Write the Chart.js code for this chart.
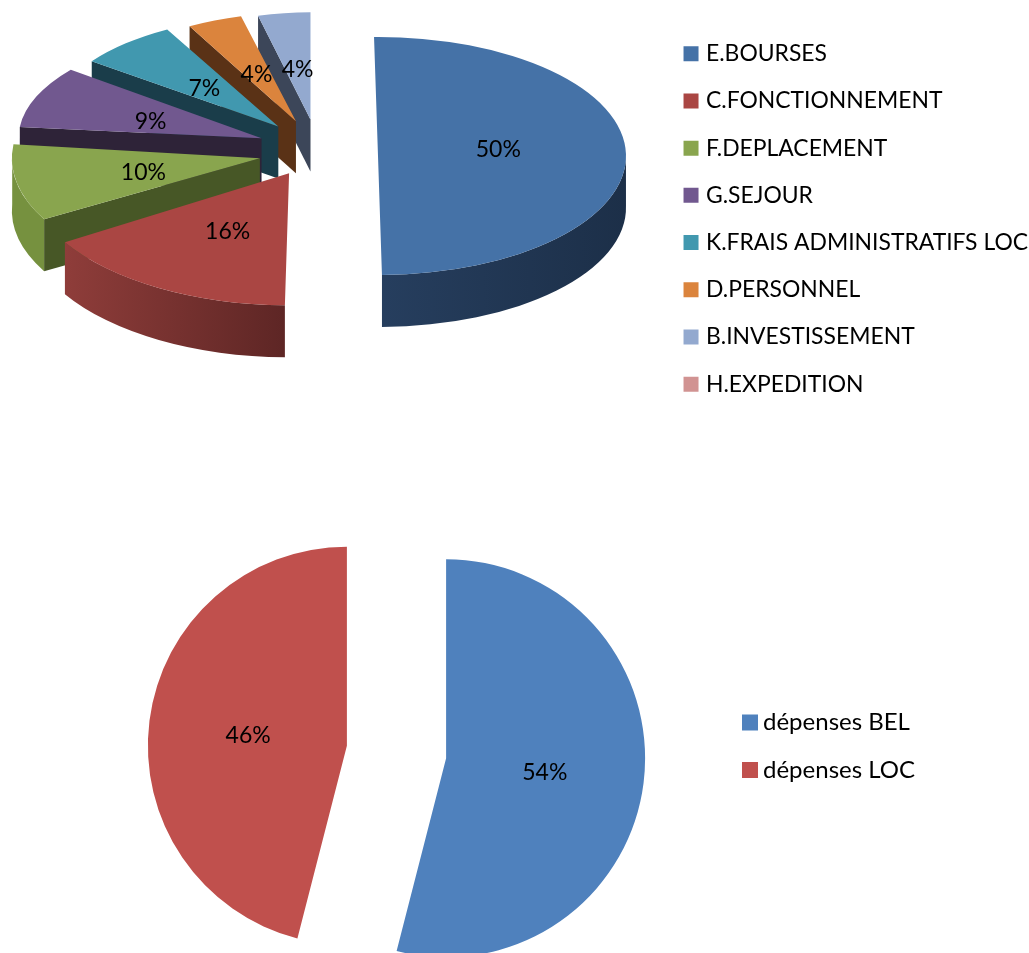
<!DOCTYPE html>
<html>
<head>
<meta charset="utf-8">
<title>Dépenses</title>
<script src="https://cdn.jsdelivr.net/npm/chart.js@4"></script>
<style>
    html, body { margin: 0; background: #fff; overflow: hidden; }
    canvas { position: absolute; left: 0; }
    #postesChart { top: 0; }
    #depensesChart { top: 470px; }
</style>
</head>
<body>
<canvas id="postesChart" width="1029" height="470"></canvas>
<canvas id="depensesChart" width="1029" height="483"></canvas>
<script>
// Top chart
const posteLabels = ['E.BOURSES', 'C.FONCTIONNEMENT', 'F.DEPLACEMENT', 'G.SEJOUR',
    'K.FRAIS ADMINISTRATIFS LOC', 'D.PERSONNEL', 'B.INVESTISSEMENT', 'H.EXPEDITION'];
const posteValues = [50, 16, 10, 9, 7, 4, 4, 0];
const posteColors = ['#4572a7', '#aa4643', '#89a54e', '#71588f', '#4198af', '#db843d', '#93a9cf', '#d19392'];
const posteWalls = ['#1c2f48', '#5e2625', '#475726', '#2e2338', '#1a3d4a', '#5a3216', '#3c4659', '#5a3d3c'];
const posteRims = [['#263e5e', '#1c2f48'], ['#8f3d3a', '#5e2625'], ['#76913f', '#76913f'], ['#5c4775', '#5c4775'],
    ['#357c90', '#357c90'], ['#b36c32', '#b36c32'], ['#7a8cab', '#7a8cab'], ['#ab7978', '#ab7978']];

// Bottom chart
const depenseLabels = ['dépenses BEL', 'dépenses LOC'];
const depenseValues = [54, 46];
const depenseColors = ['#4f81bd', '#c0504d'];

const FONT = 'Lato';

// Draws the exploded slices itself: flattened, with side walls, front slices larger
const piePerspective = {
    id: 'piePerspective',
    beforeDatasetDraw() {
        return false;
    },
    beforeDatasetsDraw(chart, args, opts) {
        const ctx = chart.ctx;
        const arcs = chart.getDatasetMeta(0).data;
        const order = arcs.map((a, i) => i);
        // blue half first, then the others from the back to the front
        const paintOrder = [order[0], ...order.slice(1).reverse()];
        const scaleX = i => opts.scaleX ? opts.scaleX[i] : 1;
        const scaleY = i => opts.scaleY ? opts.scaleY[i] : 1;
        const turn = i => opts.turn ? opts.turn[i] : 0;

        const place = (arc, i) => {
            const mid = (arc.startAngle + arc.endAngle) / 2;
            ctx.translate(opts.centerX + Math.cos(mid) * opts.explode,
                opts.centerY + Math.sin(mid) * opts.explode * opts.tilt + (opts.nudgeY ? opts.nudgeY[i] : 0));
            ctx.scale(scaleX(i), scaleY(i) * opts.tilt);
            ctx.rotate(turn(i));
            ctx.translate(-arc.x, -arc.y);
        };

        if (opts.depth) {
            paintOrder.forEach(i => {
                const arc = arcs[i];
                if (arc.circumference === 0) return;
                ctx.save();
                place(arc, i);
                // straight down on the page, whatever the slice's own turn is
                const drop = opts.depth / (opts.tilt * scaleY(i));
                const dropX = drop * Math.sin(turn(i));
                const dropY = drop * Math.cos(turn(i));
                const r = arc.outerRadius;

                // outer wall, only the part that faces the viewer
                const from = Math.max(arc.startAngle, 0);
                const to = Math.min(arc.endAngle, Math.PI);
                if (to > from) {
                    const xs = [from, to].map(angle => arc.x + Math.cos(angle) * r);
                    const grad = ctx.createLinearGradient(Math.min(...xs), 0, Math.max(...xs), 0);
                    grad.addColorStop(0, opts.rims[i][0]);
                    grad.addColorStop(1, opts.rims[i][1]);
                    ctx.fillStyle = grad;
                    ctx.beginPath();
                    ctx.arc(arc.x, arc.y, r, from, to);
                    ctx.arc(arc.x + dropX, arc.y + dropY, r, to, from, true);
                    ctx.closePath();
                    ctx.fill();
                }

                // cut faces, same rule
                ctx.fillStyle = opts.walls[i];
                [[arc.startAngle, -1], [arc.endAngle, 1]].forEach(([angle, side]) => {
                    if (Math.cos(angle) * side < 0.01) return;
                    const ex = arc.x + Math.cos(angle) * r;
                    const ey = arc.y + Math.sin(angle) * r;
                    ctx.beginPath();
                    ctx.moveTo(arc.x, arc.y);
                    ctx.lineTo(ex, ey);
                    ctx.lineTo(ex + dropX, ey + dropY);
                    ctx.lineTo(arc.x + dropX, arc.y + dropY);
                    ctx.closePath();
                    ctx.fill();
                });
                ctx.restore();
            });
        }

        paintOrder.forEach(i => {
            ctx.save();
            place(arcs[i], i);
            arcs[i].draw(ctx);
            ctx.restore();
        });

        // percentages
        const values = chart.data.datasets[0].data;
        const total = values.reduce((sum, v) => sum + v, 0);
        ctx.save();
        ctx.fillStyle = '#000';
        ctx.font = opts.labelFont;
        ctx.textAlign = 'center';
        ctx.textBaseline = 'middle';
        arcs.forEach((arc, i) => {
            if (!values[i]) return;
            const mid = (arc.startAngle + arc.endAngle) / 2;
            const dist = arc.outerRadius * opts.labelAt;
            const lx = opts.centerX + Math.cos(mid) * (opts.explode + dist * scaleX(i));
            const ly = opts.centerY + Math.sin(mid) * (opts.explode + dist * scaleY(i)) * opts.tilt;
            ctx.fillText(Math.round(values[i] / total * 100) + '%', lx, ly + 2);
        });
        ctx.restore();
    }
};

// thick stroke on a tiny box, so the swatch sits closer to its text
function legendItems(grow) {
    return chart => {
        const ds = chart.data.datasets[0];
        return chart.data.labels.map((text, i) => ({
            text,
            index: i,
            fillStyle: ds.backgroundColor[i],
            strokeStyle: ds.backgroundColor[i],
            lineWidth: grow,
            fontColor: '#000'
        }));
    };
}

new Chart(document.getElementById('postesChart'), {
    type: 'pie',
    data: {
        labels: posteLabels,
        datasets: [{
            data: posteValues,
            backgroundColor: posteColors,
            borderWidth: 0,
            radius: 248,
            clip: false
        }]
    },
    options: {
        responsive: false,
        animation: false,
        layout: { padding: { top: 18, right: -9 } },
        plugins: {
            tooltip: { enabled: false },
            legend: {
                position: 'right',
                align: 'start',
                labels: {
                    boxWidth: 7,
                    boxHeight: 7,
                    padding: 24.3,
                    color: '#000',
                    font: { family: FONT, size: 22.9 },
                    generateLabels: legendItems(8)
                }
            },
            piePerspective: {
                centerX: 318, centerY: 148, tilt: 0.48, depth: 52, explode: 60,
                scaleX: [1, 1.06, 1, 0.98, 0.93, 0.89, 0.85, 1],
                scaleY: [1, 1.11, 1.04, 0.93, 0.93, 0.91, 0.9, 1],
                nudgeY: [8, 0, 3, 0, 0, 0, 0, 0],
                turn: [-0.016, 0.016, 0.05, 0.04, 0, 0, 0, 0],
                walls: posteWalls, rims: posteRims,
                labelFont: '23px ' + FONT, labelAt: 0.485
            }
        }
    },
    plugins: [piePerspective]
});

new Chart(document.getElementById('depensesChart'), {
    type: 'pie',
    data: {
        labels: depenseLabels,
        datasets: [{
            data: depenseValues,
            backgroundColor: depenseColors,
            borderWidth: 0,
            radius: 199,
            clip: false
        }]
    },
    options: {
        responsive: false,
        animation: false,
        layout: { padding: { top: 217, right: 104 } },
        plugins: {
            tooltip: { enabled: false },
            legend: {
                position: 'right',
                align: 'start',
                labels: {
                    boxWidth: 2,
                    boxHeight: 2,
                    padding: 23.5,
                    color: '#000',
                    font: { family: FONT, size: 24 },
                    generateLabels: legendItems(14)
                }
            },
            piePerspective: {
                centerX: 396.5, centerY: 282, tilt: 1, depth: 0, explode: 50,
                labelFont: '23px ' + FONT, labelAt: 0.5
            }
        }
    },
    plugins: [piePerspective]
});
</script>
</body>
</html>
